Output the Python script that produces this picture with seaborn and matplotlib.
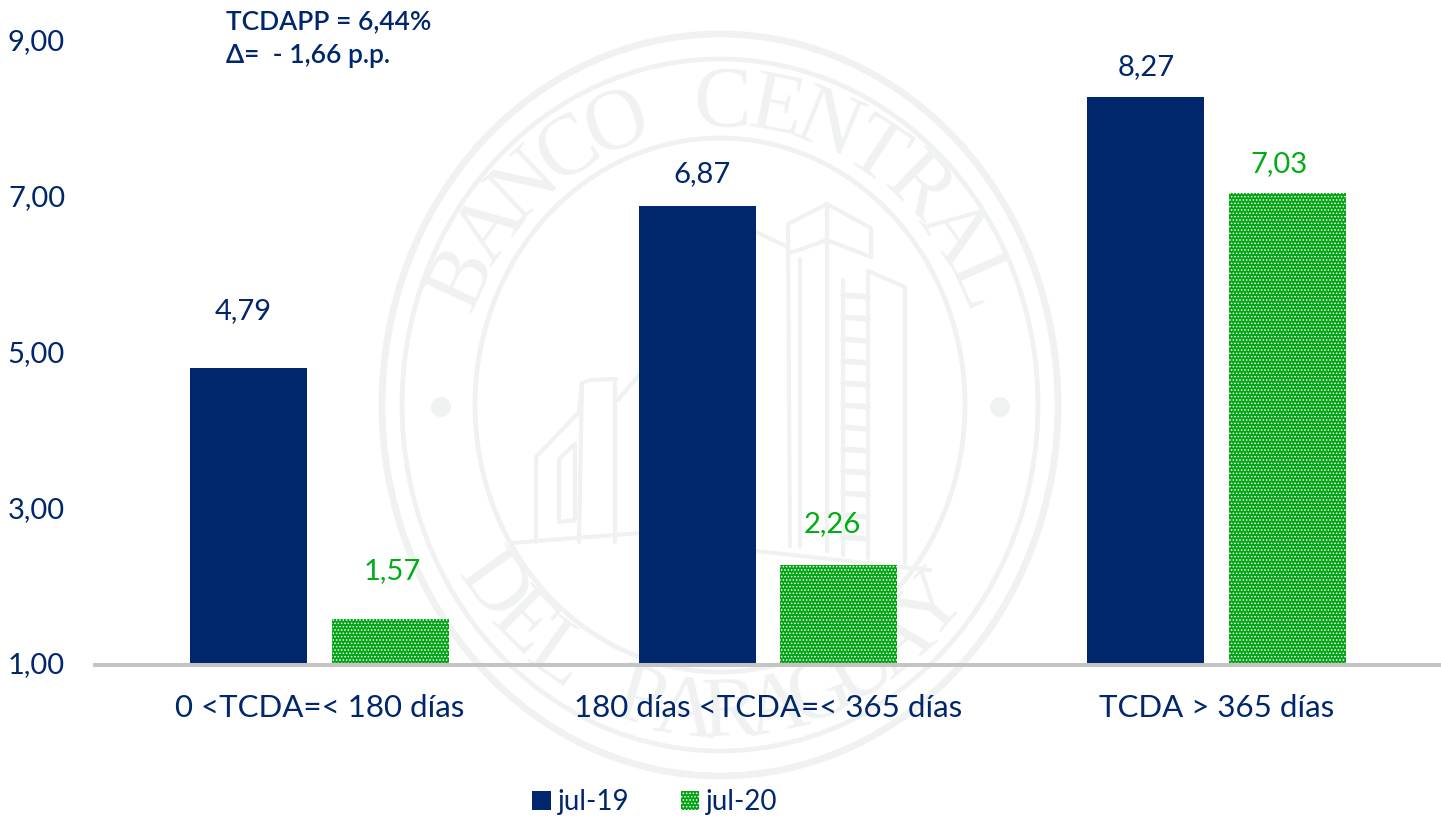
import numpy as np
import pandas as pd
import seaborn as sb
import matplotlib.pyplot as plt
from matplotlib.colors import to_rgba
from matplotlib.patches import Ellipse, Circle

# data
categories = ['0 <TCDA=< 180 días', '180 días <TCDA=< 365 días', 'TCDA > 365 días']
periods = ['jul-19', 'jul-20']
values_jul19 = [4.79, 6.87, 8.27]
values_jul20 = [1.57, 2.26, 7.03]
y_ticks = [1, 3, 5, 7, 9]
note_lines = ['TCDAPP = 6,44%', 'Δ=  - 1,66 p.p.']
seal_top = 'BANCO CENTRAL'
seal_bottom = 'DEL PARAGUAY'

navy = '#00266b'
green = '#00a511'
label_green = '#00ad14'
seal_col = '#f0f2f1'
grey = '#c4c4c4'

sb.set_theme(style='white')
plt.rcParams['font.family'] = ['Lato', 'DejaVu Sans']
plt.rcParams['hatch.linewidth'] = 0.7

df = pd.DataFrame({
    'cat': categories * 2,
    'period': [periods[0]] * 3 + [periods[1]] * 3,
    'val': values_jul19 + values_jul20,
})

W, H = 1441, 819
fig = plt.figure(figsize=(W / 100, H / 100), dpi=100, facecolor='white')

# watermark seal, in pixel coordinates behind the chart
bg = fig.add_axes([0, 0, 1, 1], zorder=0)
bg.set_xlim(0, W)
bg.set_ylim(H, 0)
bg.axis('off')
cx, cy = 720, 405
for rx, ry, lw in [(338, 371, 5), (318, 346, 3.5), (245, 267, 3.5)]:
    bg.add_patch(Ellipse((cx, cy), 2 * rx, 2 * ry, fill=False, ec=seal_col, lw=lw))
for px in [441, 1000]:
    bg.add_patch(Circle((px, 407), 10, color=seal_col, lw=0))


def arc_text(txt, a0, a1, rx, ry, flip=False):
    for ch, a in zip(txt, np.linspace(a0, a1, len(txt))):
        x = cx + rx * np.cos(np.radians(a))
        y = cy - ry * np.sin(np.radians(a))
        rot = a + 90 if flip else a - 90
        bg.text(x, y, ch, rotation=rot, rotation_mode='anchor', ha='center', va='center',
                fontsize=62, color=seal_col, family='Liberation Serif')


arc_text(seal_top, 155, 24, 283, 300)
arc_text(seal_bottom, 216, 319, 283, 310, flip=True)

# building outline
building = [
    [(536, 542), (536, 457), (579, 412), (582, 383), (590, 380), (616, 379)],
    [(618, 400), (639, 375)],
    [(559, 522), (559, 459), (575, 444), (575, 520), (559, 522)],
    [(582, 383), (579, 542)],
    [(615, 379), (615, 542)],
    [(511, 543), (640, 533)],
    [(756, 232), (788, 247)],
    [(788, 224), (827, 204), (871, 228), (871, 257)],
    [(788, 224), (790, 546)],
    [(790, 253), (827, 240), (871, 257)],
    [(800, 259), (800, 546)],
    [(827, 204), (827, 551)],
    [(868, 271), (905, 287), (905, 563)],
    [(843, 280), (843, 555)],
    [(868, 271), (868, 558)],
    [(756, 551), (930, 570)],
]
for seg in building:
    xs, ys = zip(*seg)
    bg.plot(xs, ys, color=seal_col, lw=3, solid_capstyle='round')
for wy in range(295, 550, 22):
    bg.plot([843, 868], [wy, wy + 2], color=seal_col, lw=4)

# chart
ax = fig.add_axes([95 / W, 1 - 663 / H, (W - 95) / W, (663 - 40) / H], zorder=1)
ax.patch.set_alpha(0)
sb.barplot(data=df, x='cat', y='val', hue='period', order=categories, hue_order=periods,
           palette=[navy, green], width=0.632, gap=0.175, saturation=1, errorbar=None,
           linewidth=0, ax=ax)
ax.set_xlim(-0.5, 2.5)
ax.set_ylim(1, 9)
ax.set_yticks(y_ticks)
ax.set_yticklabels(['%d,00' % t for t in y_ticks], color=navy, fontsize=21)
ax.tick_params(axis='y', length=0, pad=21.6)
ax.tick_params(axis='x', length=0, pad=21, labelsize=22.5, labelcolor=navy)
ax.set_xlabel('')
ax.set_ylabel('')
for s in ['top', 'left', 'right']:
    ax.spines[s].set_visible(False)
ax.spines['bottom'].set_color(grey)
ax.spines['bottom'].set_linewidth(2.9)
ax.spines['bottom'].set_position(('outward', 1.44))

# dotted green bars
for bar in ax.containers[1]:
    bar.set_hatch('.....')
    bar.set_edgecolor(green)
    bar.set_linewidth(0)
    bar._hatch_color = to_rgba('white')

# value labels sit at hand placed offsets (px) as in the original
off19 = [(-5, 57), (5, 32), (0, 30)]
off20 = [(2, 48), (-7, 41), (-9, 29)]
for cont, vals, offs, col in [(ax.containers[0], values_jul19, off19, navy),
                              (ax.containers[1], values_jul20, off20, label_green)]:
    for bar, v, (dx, dy) in zip(cont, vals, offs):
        ax.annotate(('%.2f' % v).replace('.', ','),
                    (bar.get_x() + bar.get_width() / 2, v),
                    xytext=(dx * 0.72, dy * 0.72), textcoords='offset points',
                    ha='center', va='center', color=col, fontsize=21)

for line, y in zip(note_lines, [22, 55]):
    fig.text(226 / W, 1 - y / H, line, color=navy, fontsize=19, fontweight='semibold',
             ha='left', va='center', zorder=3)

handles, labels = ax.get_legend_handles_labels()
leg = ax.legend(handles, labels, loc='center', bbox_to_anchor=(655 / W, 1 - 802 / H),
                bbox_transform=fig.transFigure, ncols=2, frameon=False, fontsize=20,
                labelcolor=navy, handlelength=0.65, handleheight=0.65, handletextpad=0.25,
                columnspacing=1.87)
h2 = leg.legend_handles[1]
h2.set_hatch('.....')
h2.set_edgecolor(green)
h2.set_linewidth(0)
h2._hatch_color = to_rgba('white')

fig.savefig('out.png', dpi=100)
